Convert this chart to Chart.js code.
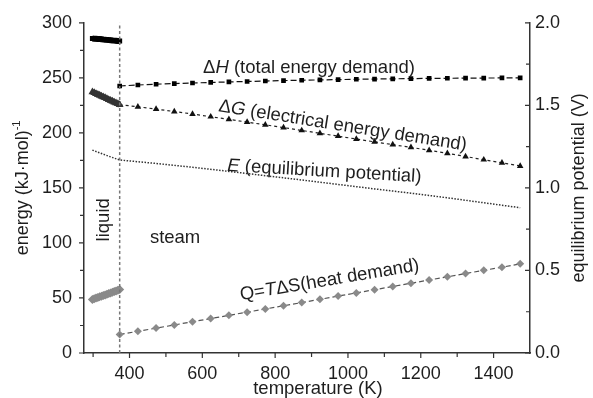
<!DOCTYPE html>
<html>
<head>
<meta charset="utf-8">
<script src="https://cdn.jsdelivr.net/npm/chart.js@4.4.1/dist/chart.umd.min.js"></script>
<style>
  html, body { margin: 0; padding: 0; background: #fff; }
  #wrap { width: 593px; height: 398px; }
</style>
</head>
<body>
<div id="wrap"><canvas id="chart" width="593" height="398"></canvas></div>
<script>
// liquid water, 298 - 373 K (kJ/mol)
const liquidT = [298, 303, 308, 313, 318, 323, 328, 333, 338, 343, 348, 353, 358, 363, 368, 373];
const liquidDH = [285.8, 285.6, 285.5, 285.3, 285.2, 285.0, 284.8, 284.7, 284.5, 284.3, 284.2, 284.0, 283.8, 283.7, 283.5, 283.4];
const liquidDG = [237.1, 236.4, 235.6, 234.8, 234.1, 233.3, 232.5, 231.8, 231.0, 230.2, 229.5, 228.7, 227.9, 227.1, 226.4, 225.6];
const liquidQ = [48.7, 49.3, 49.9, 50.5, 51.0, 51.6, 52.2, 52.8, 53.4, 54.0, 54.6, 55.2, 55.8, 56.4, 57.0, 57.6];

// steam, 373 - 1473 K (kJ/mol)
const steamT = [373, 423, 473, 523, 573, 623, 673, 723, 773, 823, 873, 923, 973, 1023, 1073, 1123, 1173, 1223, 1273, 1323, 1373, 1423, 1473];
const steamDH = [242.6, 243.5, 244.2, 244.8, 245.3, 245.8, 246.3, 246.7, 247.1, 247.5, 247.8, 248.1, 248.4, 248.7, 248.9, 249.1, 249.3, 249.5, 249.6, 249.7, 249.8, 249.9, 250.0];
const steamDG = [225.6, 223.7, 221.6, 219.4, 217.1, 214.7, 212.3, 209.8, 207.3, 204.8, 202.2, 199.6, 197.0, 194.4, 191.8, 189.3, 186.8, 184.2, 181.4, 178.5, 175.6, 172.7, 169.9];
const steamQ = [16.8, 19.7, 22.6, 25.5, 28.4, 31.3, 34.2, 37.1, 40.0, 42.9, 45.8, 48.8, 51.7, 54.6, 57.5, 60.4, 63.4, 66.3, 69.2, 72.2, 75.1, 78.0, 81.0];

// equilibrium potential (V)
const potT = [298, 323, 348, 373, 473, 573, 673, 773, 873, 973, 1073, 1173, 1273, 1373, 1473];
const potE = [1.229, 1.208, 1.188, 1.169, 1.148, 1.125, 1.100, 1.074, 1.048, 1.021, 0.994, 0.968, 0.940, 0.910, 0.880];

// boiling point marker
const boilT = [373, 373];
const boilY = [0, 300];

// ticks
const xTicks = [400, 600, 800, 1000, 1200, 1400];
const xMinor = [300, 500, 700, 900, 1100, 1300];
const yTicks = [0, 50, 100, 150, 200, 250, 300];
const yMinor = [25, 75, 125, 175, 225, 275];
const y2Ticks = [0, 0.5, 1.0, 1.5, 2.0];
const y2Minor = [0.25, 0.75, 1.25, 1.75];

const FONT = "'Liberation Sans', Arial, sans-serif";
const INK = '#1e1e1e';
Chart.defaults.font.family = FONT;
Chart.defaults.color = INK;

const pts = (xs, ys) => xs.map((x, i) => ({ x: x, y: ys[i] }));

function drawParts(ctx, parts, x, y, angle, size, align) {
  ctx.save();
  ctx.translate(x, y);
  ctx.rotate(angle * Math.PI / 180);
  ctx.textBaseline = 'alphabetic';
  ctx.textAlign = 'left';
  ctx.fillStyle = INK;
  const fontOf = p => (p.it ? 'italic ' : '') + (p.sup ? size * 0.62 : size) + 'px ' + FONT;
  let total = 0;
  parts.forEach(p => { ctx.font = fontOf(p); total += ctx.measureText(p.t).width; });
  let cx = align === 'center' ? -total / 2 : 0;
  parts.forEach(p => {
    ctx.font = fontOf(p);
    ctx.fillText(p.t, cx, p.sup ? -size * 0.42 : 0);
    cx += ctx.measureText(p.t).width;
  });
  ctx.restore();
}

// labels anchored in data units (x: K, y: kJ/mol)
const notes = [
  { x: 602, y: 254.5, a: 0, parts: [{ t: 'Δ' }, { t: 'H', it: true }, { t: ' (total energy demand)' }] },
  { x: 643, y: 219.6, a: 9, parts: [{ t: 'Δ' }, { t: 'G', it: true }, { t: ' (electrical energy demand)' }] },
  { x: 668, y: 165.4, a: 3.3, parts: [{ t: 'E', it: true }, { t: ' (equilibrium potential)' }] },
  { x: 706, y: 47.9, a: -9.5, parts: [{ t: 'Q=' }, { t: 'T', it: true }, { t: 'ΔS(heat demand)' }] },
  { x: 456, y: 100.3, a: 0, parts: [{ t: 'steam' }] },
  { x: 343, y: 121, a: -90, parts: [{ t: 'liquid' }], align: 'center' }
];

const annotate = {
  id: 'annotate',
  afterDraw(chart) {
    const { ctx, chartArea: a, scales: { x, y, y2 } } = chart;
    ctx.save();
    ctx.strokeStyle = '#333';
    ctx.lineWidth = 1.2;
    ctx.beginPath();
    xTicks.forEach(v => { const p = x.getPixelForValue(v); ctx.moveTo(p, a.bottom); ctx.lineTo(p, a.bottom + 5); });
    xMinor.forEach(v => { const p = x.getPixelForValue(v); ctx.moveTo(p, a.bottom); ctx.lineTo(p, a.bottom + 4); });
    yTicks.forEach(v => { const p = y.getPixelForValue(v); ctx.moveTo(a.left, p); ctx.lineTo(a.left - 5, p); });
    yMinor.forEach(v => { const p = y.getPixelForValue(v); ctx.moveTo(a.left, p); ctx.lineTo(a.left - 4, p); });
    y2Ticks.forEach(v => { const p = y2.getPixelForValue(v); ctx.moveTo(a.right, p); ctx.lineTo(a.right - 5, p); });
    y2Minor.forEach(v => { const p = y2.getPixelForValue(v); ctx.moveTo(a.right, p); ctx.lineTo(a.right - 4, p); });
    ctx.stroke();
    ctx.restore();

    notes.forEach(n => {
      drawParts(ctx, n.parts, x.getPixelForValue(n.x), y.getPixelForValue(n.y), n.a, 18.5, n.align);
    });

    // axis titles
    const midY = (a.top + a.bottom) / 2;
    drawParts(ctx, [{ t: 'energy (kJ·mol)' }, { t: '-1', sup: true }], 28, midY, -90, 18, 'center');
    drawParts(ctx, [{ t: 'equilibrium potential (V)' }], 584, midY, -90, 18, 'center');
    drawParts(ctx, [{ t: 'temperature (K)' }], 318, 394, 0, 18.5, 'center');
  }
};

const ctx = document.getElementById('chart').getContext('2d');
new Chart(ctx, {
  type: 'scatter',
  data: {
    datasets: [
      {
        data: pts(boilT, boilY), showLine: true, borderColor: '#777', borderWidth: 1.5,
        borderDash: [3, 2.5], pointRadius: 0
      },
      {
        data: pts(liquidT, liquidDH), showLine: true, borderColor: '#000', borderWidth: 6,
        pointStyle: 'rect', pointRadius: 3.5, backgroundColor: '#000', pointBorderWidth: 0
      },
      {
        data: pts(liquidT, liquidDG), showLine: true, borderColor: '#333', borderWidth: 6,
        pointStyle: 'triangle', pointRadius: 4.5, backgroundColor: '#333', pointBorderWidth: 0
      },
      {
        data: pts(liquidT, liquidQ), showLine: true, borderColor: '#8a8a8a', borderWidth: 6,
        pointStyle: 'rectRot', pointRadius: 4.5, backgroundColor: '#8a8a8a', pointBorderWidth: 0
      },
      {
        data: pts(steamT, steamDH), showLine: true, borderColor: '#111', borderWidth: 1.2,
        borderDash: [6, 3], pointStyle: 'rect', pointRadius: 3.3, backgroundColor: '#000', pointBorderWidth: 0
      },
      {
        data: pts(steamT, steamDG), showLine: true, borderColor: '#222', borderWidth: 1.2,
        borderDash: [3, 3], pointStyle: 'triangle', pointRadius: 3.8, backgroundColor: '#111', pointBorderWidth: 0
      },
      {
        data: pts(steamT, steamQ), showLine: true, borderColor: '#555', borderWidth: 1.2,
        borderDash: [5, 3], pointStyle: 'rectRot', pointRadius: 4, backgroundColor: '#8a8a8a', pointBorderWidth: 0
      },
      {
        data: pts(potT, potE), yAxisID: 'y2', showLine: true, borderColor: '#333', borderWidth: 1.5,
        borderDash: [1.5, 1.5], pointRadius: 0
      }
    ]
  },
  options: {
    responsive: false,
    animation: false,
    devicePixelRatio: 1,
    layout: { padding: { top: 21, left: 0, right: 0, bottom: 0 } },
    plugins: { legend: { display: false }, tooltip: { enabled: false } },
    scales: {
      x: {
        type: 'linear', min: 275, max: 1500,
        afterBuildTicks: s => { s.ticks = xTicks.map(v => ({ value: v })); },
        afterFit: s => { s.height = 45; },
        grid: { display: false, drawTicks: false },
        border: { display: true, color: '#333', width: 1.5 },
        ticks: { padding: 10, font: { size: 18 }, color: INK, callback: v => String(v) }
      },
      y: {
        type: 'linear', min: 0, max: 300, position: 'left',
        afterBuildTicks: s => { s.ticks = yTicks.map(v => ({ value: v })); },
        afterFit: s => { s.width = 84; },
        grid: { display: false, drawTicks: false },
        border: { display: true, color: '#333', width: 1.5 },
        ticks: { padding: 12, font: { size: 18 }, color: INK, callback: v => String(v) }
      },
      y2: {
        type: 'linear', min: 0, max: 2, position: 'right',
        afterBuildTicks: s => { s.ticks = y2Ticks.map(v => ({ value: v })); },
        afterFit: s => { s.width = 63; },
        grid: { display: false, drawTicks: false },
        border: { display: true, color: '#333', width: 1.5 },
        ticks: { padding: 5, font: { size: 18 }, color: INK, callback: v => Number(v).toFixed(1) }
      }
    }
  },
  plugins: [annotate]
});
</script>
</body>
</html>
